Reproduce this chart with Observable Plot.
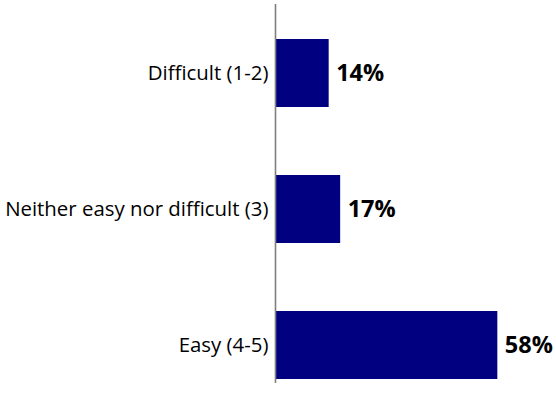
<!DOCTYPE html>
<html>
<head>
<meta charset="utf-8">
<script src="https://cdn.jsdelivr.net/npm/d3@7"></script>
<script src="https://cdn.jsdelivr.net/npm/@observablehq/plot@0.6"></script>
<style>
  html, body { margin: 0; padding: 0; background: #fff; }
</style>
</head>
<body>
<div id="chart"></div>
<script>
const categories = ["Difficult (1-2)", "Neither easy nor difficult (3)", "Easy (4-5)"];
const values = [14, 17, 58];
const valueLabels = ["14%", "17%", "58%"];

const data = categories.map((c, i) => ({category: c, value: values[i], label: valueLabels[i]}));

const chart = Plot.plot({
  width: 556,
  height: 414,
  marginTop: 4,
  marginBottom: 31,
  marginLeft: 275,
  marginRight: 51,
  style: {fontFamily: "'Open Sans', sans-serif", color: "#000", background: "#fff"},
  x: {domain: [0, 60], axis: null},
  y: {domain: categories, paddingInner: 0.5, paddingOuter: 0.139, align: 0.9, label: null},
  marks: [
    Plot.barX(data, {x: "value", y: "category", fill: "#000080"}),
    Plot.ruleX([0], {stroke: "#7f7f7f", strokeWidth: 1.6}),
    Plot.axisY({tickSize: 0, tickPadding: 7, fontSize: 20.4, label: null}),
    Plot.text(data, {x: "value", y: "category", text: "label", textAnchor: "start", dx: 7, fontSize: 23.5, fontWeight: "bold", fill: "#000"})
  ]
});
document.getElementById("chart").appendChild(chart);
</script>
</body>
</html>
